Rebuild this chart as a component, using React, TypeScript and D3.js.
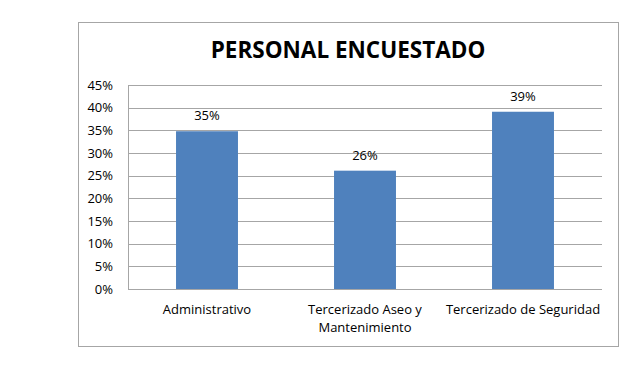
import * as d3 from "d3";
import React from "react";

const categories = ["Administrativo", "Tercerizado Aseo y Mantenimiento", "Tercerizado de Seguridad"];
const categoryLines = [["Administrativo"], ["Tercerizado Aseo y", "Mantenimiento"], ["Tercerizado de Seguridad"]];
const values = [0.348, 0.261, 0.391];
const valueLabels = ["35%", "26%", "39%"];
const yTicks = [0, 0.05, 0.1, 0.15, 0.2, 0.25, 0.3, 0.35, 0.4, 0.45];

const W = 627;
const H = 369;
const font = "'Open Sans', sans-serif";

export default function App() {
    const plot = { left: 128, right: 602, top: 85, bottom: 289 };

    const x = d3
        .scaleBand()
        .domain(categories)
        .range([plot.left, plot.right])
        .paddingInner(0.608)
        .paddingOuter(0.304);

    const y = d3.scaleLinear().domain([0, 0.45]).range([plot.bottom, plot.top]);
    const fmt = d3.format(".0%");

    return (
        <svg width={W} height={H} style={{ position: "absolute", left: 0, top: 0 }} fontFamily={font}>
            <rect x={0} y={0} width={W} height={H} fill="#fff" />
            {/* chart border */}
            <rect x={78.5} y={22.5} width={540} height={324} fill="none" stroke="#a6a6a6" strokeWidth={1} />

            <text x={348} y={58} textAnchor="middle" fontSize={22.5} fontWeight="bold" fill="#000">
                PERSONAL ENCUESTADO
            </text>

            {/* gridlines */}
            {yTicks.map((t) => (
                <line
                    key={t}
                    x1={plot.left}
                    x2={plot.right}
                    y1={Math.round(y(t)) + 0.5}
                    y2={Math.round(y(t)) + 0.5}
                    stroke="#a6a6a6"
                    strokeWidth={1}
                />
            ))}
            {/* y axis line */}
            <line x1={plot.left + 0.5} x2={plot.left + 0.5} y1={plot.top} y2={plot.bottom} stroke="#a6a6a6" />

            {yTicks.map((t) => (
                <text key={"l" + t} x={113} y={y(t) + 4.5} textAnchor="end" fontSize={13} fill="#000">
                    {fmt(t)}
                </text>
            ))}

            {/* bars */}
            {categories.map((c, i) => (
                <rect
                    key={c}
                    x={x(c)}
                    y={y(values[i])}
                    width={x.bandwidth()}
                    height={plot.bottom - y(values[i])}
                    fill="#4f81bd"
                />
            ))}

            {categories.map((c, i) => (
                <text
                    key={"v" + c}
                    x={(x(c) as number) + x.bandwidth() / 2}
                    y={y(values[i]) - 11}
                    textAnchor="middle"
                    fontSize={13}
                    fill="#000"
                >
                    {valueLabels[i]}
                </text>
            ))}

            {/* category labels, one text per line */}
            {categories.map((c, i) =>
                categoryLines[i].map((line, j) => (
                    <text
                        key={"c" + c + j}
                        x={(x(c) as number) + x.bandwidth() / 2}
                        y={314 + j * 18}
                        textAnchor="middle"
                        fontSize={13}
                        fill="#000"
                    >
                        {line}
                    </text>
                ))
            )}
        </svg>
    );
}
